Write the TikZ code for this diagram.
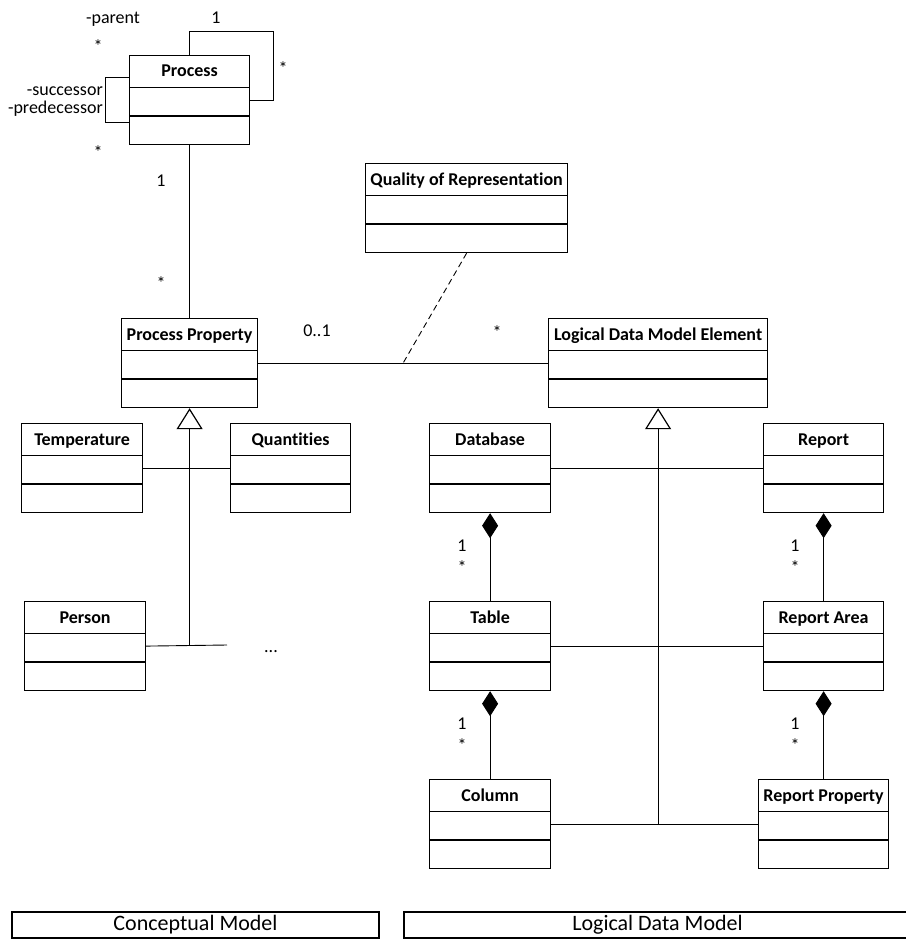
\documentclass[tikz,border=0pt]{standalone}
\usepackage{fontspec}
\setmainfont{Carlito}[Ligatures=NoCommon]
\usetikzlibrary{arrows.meta,calc}
\tikzstyle{classbox} = [draw=black, line width=1.2pt, rectangle,
    inner sep=0, minimum height=89pt]
\tikzstyle{classtitle} = [font=\fontsize{18}{20}\selectfont\bfseries, inner sep=0, anchor=base]
\tikzstyle{mult} = [font=\fontsize{18}{20}\selectfont, inner sep=0]
\tikzstyle{assoc} = [line width=0.9pt]
\tikzstyle{inherit} = [line width=1.2pt, -{Triangle[open, length=21pt, width=26pt]}]
\tikzstyle{compose} = [line width=0.9pt, -{Diamond[length=25pt, width=16pt]}]
\tikzstyle{modelbox} = [draw=black, line width=1.2pt, inner sep=0,
    minimum height=26pt, font=\fontsize{22}{24}\selectfont]
% class box with name compartment and two empty compartments
\newcommand{\umlclass}[5]{%
  \node[classbox, minimum width=#4pt, anchor=north west] (#1) at (#2,#3) {};
  \node[classtitle] (#1-title) at ([yshift=-22]#1.north) {#5};
  \draw[line width=1.2pt] ([yshift=-32.5]#1.north west) -- ([yshift=-32.5]#1.north east);
  \draw[line width=1.2pt] ([yshift=-61]#1.north west) -- ([yshift=-61]#1.north east);
}

\begin{document}
\begin{tikzpicture}[x=1pt, y=-1pt]
\useasboundingbox (0,0) rectangle (905,939);

\umlclass{process}{129}{55}{120}{Process}
\umlclass{quality}{365}{163}{202}{Quality of Representation}
\umlclass{procprop}{121}{318}{136}{Process Property}
\umlclass{ldme}{548}{318}{219}{Logical Data Model Element}
\umlclass{temp}{21}{423}{121}{Temperature}
\umlclass{quant}{230}{423}{120}{Quantities}
\umlclass{person}{24}{601}{121}{Person}
\umlclass{database}{429}{423}{121}{Database}
\umlclass{report}{763}{423}{120}{Report}
\umlclass{table}{429}{601}{121}{Table}
\umlclass{area}{763}{601}{120}{Report Area}
\umlclass{column}{429}{779}{121}{Column}
\umlclass{repprop}{758}{779}{130}{Report Property}

% process self associations
\coordinate (parentcorner) at (273,31);
\draw[assoc] (process.north) |- (parentcorner) |- (process.east);
\draw[assoc] ([yshift=22.5]process.west) -- ++(-24,0) -- ++(0,45)
    -- ([yshift=-22.5]process.west);
\node[mult] (lparent) at (113,19) {-parent};
\node[mult] (lparent1) at (216,18) {1};
\node[mult] (lparentstar) at (98,46) {*};
\node[mult] (lchildstar) at (283,68) {*};
\node[mult, anchor=east] (lsucc) at (103,91) {-successor};
\node[mult, anchor=east] (lpred) at (103,109) {-predecessor};
\node[mult] (lsuccstar) at (98,152) {*};

% conceptual side
\draw[assoc] (process.south) -- (procprop.north);
\node[mult] (lproc1) at (161,181) {1};
\node[mult] (lprocstar) at (161,283) {*};

\coordinate (ccjoint) at (procprop.south |- person.east);
\coordinate (moreend) at (227,645);
\draw[inherit] (ccjoint) -- (procprop.south);
\draw[assoc] (person.east) -- (moreend);
\draw[assoc] (temp.east) -- (quant.west);
\node[mult, anchor=base] (more) at (271,652) {...};

% mapping between the models
\draw[assoc] (procprop.east) -- (ldme.west);
\coordinate (assocpt) at ($(procprop.east)!0.5!(ldme.west)$);
\draw[assoc, dash pattern=on 6pt off 4pt] (quality.south) -- (assocpt);
\node[mult] (lpp01) at (317,331) {0..1};
\node[mult] (lldmestar) at (497,332) {*};

% logical side
\coordinate (ldjoint) at (ldme.south |- column.east);
\draw[inherit] (ldjoint) -- (ldme.south);
\draw[assoc] (database.east) -- (report.west);
\draw[assoc] (table.east) -- (area.west);
\draw[assoc] (column.east) -- (repprop.west);

\draw[compose] (table.north) -- (database.south);
\draw[compose] (column.north) -- (table.south);
\draw[compose] (area.north) -- (report.south);
\draw[compose] (repprop.north) -- (area.south);
\node[mult] (ldb1) at (462,546) {1};
\node[mult] (ldbstar) at (462,567) {*};
\node[mult] (ltab1) at (462,724) {1};
\node[mult] (ltabstar) at (462,745) {*};
\node[mult] (lrep1) at (795,546) {1};
\node[mult] (lrepstar) at (795,567) {*};
\node[mult] (larea1) at (795,724) {1};
\node[mult] (lareastar) at (795,745) {*};

% model captions
\node[modelbox, minimum width=367pt] (conceptual) at (195.5,925) {Conceptual Model};
\node[modelbox, minimum width=507pt] (logical) at (657.5,925) {Logical Data Model};
\end{tikzpicture}
\end{document}
